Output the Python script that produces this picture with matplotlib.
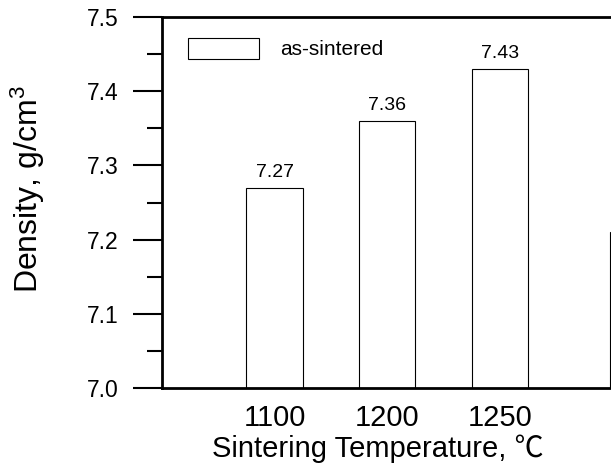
import matplotlib
matplotlib.use("Agg")
import matplotlib.pyplot as plt
from matplotlib.ticker import MultipleLocator, FixedLocator, FormatStrFormatter

plt.rcParams['font.family'] = ['Liberation Sans', 'Noto Sans CJK SC', 'DejaVu Sans']
plt.rcParams['mathtext.fontset'] = 'custom'
plt.rcParams['mathtext.rm'] = 'Liberation Sans'
plt.rcParams['mathtext.it'] = 'Liberation Sans'

# ---- data ----
categories = ['1100', '1200', '1250']
density = [7.27, 7.36, 7.43]
value_labels = ['7.27', '7.36', '7.43']
edge_bar_value = 7.21          # partially visible bar at the cut-off right edge
legend_label = 'as-sintered'
x_label = 'Sintering Temperature, \u2103'
y_label = r'Density, g/cm$^{3}$'

fig = plt.figure(figsize=(6.11, 4.71), dpi=100)
W, H = 611, 471
left_px, top_px, bottom_px = 162, 16.7, 388.3
unit_px = 112.6
xmax = 4.5
ax = fig.add_axes([left_px / W, 1 - bottom_px / H,
                   xmax * unit_px / W, (bottom_px - top_px) / H])

pos = list(range(1, len(categories) + 1))
bars = ax.bar(pos, density, width=0.5, bottom=0, color='white',
              edgecolor='black', linewidth=0.8, label=legend_label)
ax.bar([pos[-1] + 1.23], [edge_bar_value], width=0.5, color='white',
       edgecolor='black', linewidth=0.8)

for p, v, t in zip(pos, density, value_labels):
    ax.annotate(t, (p, v), xytext=(0, 4.5), textcoords='offset points',
                ha='center', va='bottom', fontsize=14)

ax.set_xlim(0, xmax)
ax.set_ylim(7.0, 7.5)
ax.xaxis.set_major_locator(FixedLocator(pos))
ax.set_xticklabels(categories, fontsize=21)
ax.tick_params(axis='x', length=0, pad=11)
ax.yaxis.set_major_locator(MultipleLocator(0.1))
ax.yaxis.set_minor_locator(MultipleLocator(0.05))
ax.yaxis.set_major_formatter(FormatStrFormatter('%.1f'))
ax.tick_params(axis='y', which='major', direction='out', length=21, width=1.5,
               labelsize=16.5, pad=10)
ax.tick_params(axis='y', which='minor', direction='out', length=10.5, width=1.5)

for s in ['left', 'bottom', 'top', 'right']:
    ax.spines[s].set_linewidth(2)

ax.set_xlabel(x_label, fontsize=21)
ax.xaxis.set_label_coords((378 - left_px) / (xmax * unit_px), -0.125)
ax.set_ylabel(y_label, fontsize=23)
ax.yaxis.set_label_coords((47 - left_px) / (xmax * unit_px), 0.535)

leg = ax.legend(loc='upper left', bbox_to_anchor=(0.035, 0.965), frameon=False,
                handlelength=3.4, handleheight=1.15, handletextpad=1.0,
                fontsize=15, borderaxespad=0)
for h in leg.legend_handles:
    h.set_linewidth(0.8)

fig.savefig('out.png', dpi=100)
